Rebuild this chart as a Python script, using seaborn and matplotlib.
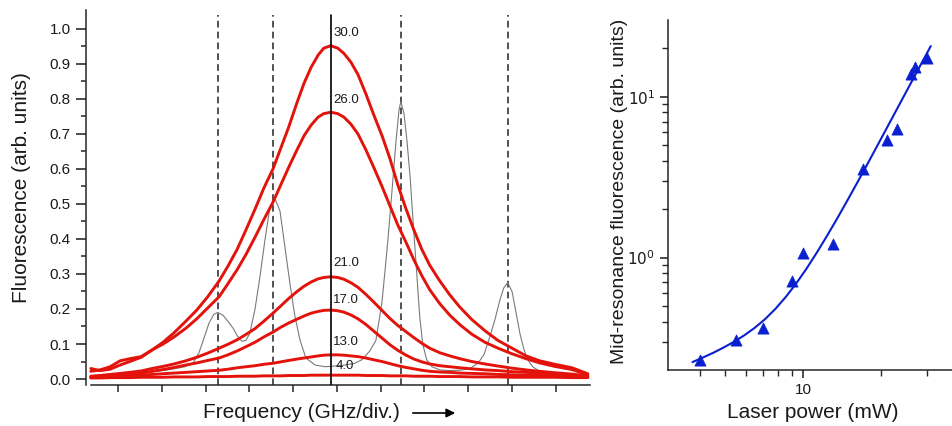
import numpy as np
import pandas as pd
import matplotlib
matplotlib.use("Agg")
import matplotlib.pyplot as plt
from matplotlib.ticker import FixedLocator, NullFormatter, FixedFormatter
import seaborn as sns

# ---------------- data: left panel (frequency in divisions) ----------------
freq = [-0.62, -0.41, -0.18, 0.05, 0.27, 0.53, 0.78, 1.03, 1.28, 1.55, 1.80, 2.05, 2.31,
        2.51, 2.72, 2.92, 3.13, 3.33, 3.54, 3.72, 3.90, 4.09, 4.25, 4.41, 4.57, 4.70,
        4.86, 5.02, 5.16, 5.32, 5.48, 5.66, 5.84, 6.03, 6.21, 6.39, 6.58, 6.76, 6.94,
        7.12, 7.35, 7.58, 7.81, 8.08, 8.38, 8.68, 9.00, 9.32, 9.63, 9.98, 10.37, 10.73]

fl_30 = [0.030, 0.024, 0.028, 0.040, 0.050, 0.062, 0.083, 0.105, 0.132, 0.165, 0.197, 0.235, 0.280,
         0.322, 0.370, 0.425, 0.485, 0.545, 0.600, 0.660, 0.720, 0.790, 0.845, 0.890, 0.925, 0.945,
         0.952, 0.945, 0.930, 0.905, 0.870, 0.815, 0.755, 0.695, 0.630, 0.555, 0.485, 0.425, 0.370,
         0.325, 0.280, 0.240, 0.205, 0.170, 0.138, 0.110, 0.088, 0.066, 0.052, 0.042, 0.032, 0.015]
fl_26 = [0.022, 0.026, 0.035, 0.052, 0.058, 0.064, 0.083, 0.100, 0.120, 0.145, 0.172, 0.203, 0.235,
         0.272, 0.312, 0.355, 0.405, 0.455, 0.505, 0.555, 0.605, 0.655, 0.695, 0.725, 0.748, 0.758,
         0.762, 0.758, 0.748, 0.728, 0.700, 0.655, 0.605, 0.550, 0.495, 0.440, 0.390, 0.340, 0.295,
         0.255, 0.215, 0.182, 0.155, 0.128, 0.105, 0.088, 0.072, 0.058, 0.046, 0.036, 0.027, 0.012]
fl_21 = [0.008, 0.010, 0.013, 0.016, 0.019, 0.023, 0.030, 0.036, 0.043, 0.052, 0.062, 0.074, 0.088,
         0.099, 0.112, 0.127, 0.144, 0.165, 0.188, 0.209, 0.230, 0.250, 0.265, 0.277, 0.286, 0.290,
         0.292, 0.290, 0.285, 0.275, 0.262, 0.242, 0.220, 0.196, 0.173, 0.153, 0.135, 0.118, 0.102,
         0.088, 0.075, 0.066, 0.058, 0.050, 0.043, 0.037, 0.031, 0.026, 0.022, 0.018, 0.014, 0.009]
fl_17 = [0.006, 0.008, 0.010, 0.012, 0.014, 0.017, 0.022, 0.027, 0.033, 0.040, 0.046, 0.053, 0.060,
         0.069, 0.080, 0.092, 0.105, 0.120, 0.134, 0.148, 0.160, 0.171, 0.180, 0.188, 0.193, 0.196,
         0.197, 0.195, 0.191, 0.183, 0.172, 0.156, 0.137, 0.117, 0.098, 0.082, 0.068, 0.057, 0.049,
         0.043, 0.038, 0.035, 0.032, 0.029, 0.026, 0.024, 0.021, 0.019, 0.016, 0.013, 0.011, 0.008]
fl_13 = [0.004, 0.005, 0.006, 0.008, 0.009, 0.011, 0.013, 0.015, 0.017, 0.019, 0.021, 0.023, 0.025,
         0.028, 0.032, 0.035, 0.038, 0.042, 0.045, 0.049, 0.053, 0.057, 0.060, 0.063, 0.066, 0.068,
         0.069, 0.069, 0.068, 0.066, 0.064, 0.060, 0.055, 0.050, 0.044, 0.038, 0.033, 0.029, 0.025,
         0.022, 0.020, 0.019, 0.017, 0.016, 0.015, 0.013, 0.012, 0.011, 0.010, 0.009, 0.008, 0.006]
fl_4 = [0.003, 0.003, 0.004, 0.004, 0.004, 0.005, 0.005, 0.005, 0.006, 0.006, 0.006, 0.007, 0.007,
        0.007, 0.008, 0.008, 0.008, 0.009, 0.009, 0.009, 0.010, 0.010, 0.010, 0.011, 0.011, 0.011,
        0.011, 0.011, 0.011, 0.011, 0.011, 0.010, 0.010, 0.010, 0.009, 0.009, 0.009, 0.008, 0.008,
        0.008, 0.007, 0.007, 0.007, 0.006, 0.006, 0.006, 0.005, 0.005, 0.005, 0.005, 0.004, 0.004]

power_labels = ["30.0", "26.0", "21.0", "17.0", "13.0", "4.0"]
label_y = [0.989, 0.797, 0.331, 0.226, 0.106, 0.037]

ref_freq = [-0.62, -0.18, 0.27, 0.73, 1.19, 1.53, 1.71, 1.85, 1.96, 2.08, 2.19, 2.28,
            2.40, 2.51, 2.63, 2.74, 2.83, 2.92, 3.01, 3.13, 3.24, 3.36, 3.47, 3.58,
            3.70, 3.81, 3.93, 4.04, 4.16, 4.29, 4.50, 4.73, 4.95, 5.18, 5.41, 5.57,
            5.75, 5.89, 6.03, 6.16, 6.26, 6.35, 6.42, 6.46, 6.53, 6.60, 6.67, 6.74,
            6.83, 6.89, 6.96, 7.05, 7.17, 7.35, 7.58, 7.81, 8.04, 8.22, 8.36, 8.49,
            8.61, 8.72, 8.81, 8.90, 9.00, 9.09, 9.18, 9.27, 9.36, 9.47, 9.63, 9.86,
            10.09, 10.43, 10.73]
ref_sig = [0.004, 0.010, 0.015, 0.020, 0.027, 0.035, 0.045, 0.075, 0.115, 0.160, 0.185, 0.190,
           0.182, 0.165, 0.145, 0.120, 0.108, 0.110, 0.130, 0.200, 0.290, 0.400, 0.490, 0.517,
           0.480, 0.380, 0.270, 0.180, 0.110, 0.060, 0.040, 0.035, 0.037, 0.040, 0.045, 0.055,
           0.080, 0.110, 0.220, 0.390, 0.540, 0.680, 0.770, 0.792, 0.760, 0.680, 0.580, 0.450,
           0.290, 0.180, 0.100, 0.055, 0.035, 0.026, 0.024, 0.025, 0.030, 0.045, 0.070, 0.120,
           0.170, 0.225, 0.260, 0.275, 0.250, 0.190, 0.130, 0.085, 0.055, 0.035, 0.022, 0.015,
           0.012, 0.010, 0.010]

center_line = 4.86
dashed_lines = [2.28, 3.54, 6.46, 8.90]

# ---------------- data: right panel ----------------
laser_power = [4.0, 5.5, 7.0, 9.0, 10.0, 13.0, 17.0, 21.0, 23.0, 26.0, 27.0, 30.0]
mid_fluor = [0.232, 0.306, 0.366, 0.713, 1.07, 1.22, 3.56, 5.35, 6.29, 13.9, 15.4, 17.4]
fit_power = [3.73, 4.09, 4.49, 4.92, 5.40, 5.92, 6.49, 7.11, 7.80, 8.55, 9.38, 10.28,
             11.27, 12.36, 13.55, 14.86, 16.29, 17.86, 19.59, 21.48, 23.55, 25.82, 28.31, 31.05]
fit_fluor = [0.224, 0.239, 0.256, 0.276, 0.300, 0.329, 0.366, 0.414, 0.480, 0.569, 0.690, 0.853,
             1.074, 1.371, 1.766, 2.296, 2.999, 3.936, 5.188, 6.839, 9.016, 11.89, 15.67, 20.65]

# ---------------- style ----------------
sns.set_theme(style="ticks")
plt.rcParams["font.family"] = ["Liberation Sans", "DejaVu Sans"]
plt.rcParams["axes.linewidth"] = 1.1
plt.rcParams["text.color"] = "#1a1a1a"

RED = "#e3120b"
BLUE = "#0a1fd0"

W, H = 952, 426
fig = plt.figure(figsize=(W / 100, H / 100), dpi=100)
ax1 = fig.add_axes([86 / W, 1 - 385 / H, (590 - 86) / W, (385 - 10) / H])
ax2 = fig.add_axes([668 / W, 1 - 370 / H, (952 - 668) / W, (370 - 20) / H])

# ---------------- left panel ----------------
curves = [fl_30, fl_26, fl_21, fl_17, fl_13, fl_4]
df_red = pd.concat(
    [pd.DataFrame({"freq": freq, "fluor": c, "power": lab}) for c, lab in zip(curves, power_labels)],
    ignore_index=True)
df_ref = pd.DataFrame({"freq": ref_freq, "fluor": ref_sig})

for xv in dashed_lines:
    ax1.axvline(xv, ymin=0, ymax=0.987, color="#333333", lw=1.2, ls=(0, (4, 2.5)), zorder=1)

sns.lineplot(data=df_ref, x="freq", y="fluor", ax=ax1, color="#7a7a7a", lw=0.8,
             sort=False, estimator=None, zorder=2)
sns.lineplot(data=df_red, x="freq", y="fluor", hue="power", hue_order=power_labels,
             palette={p: RED for p in power_labels}, ax=ax1, lw=2.1, sort=False,
             estimator=None, legend=False, zorder=3)
ax1.axvline(center_line, ymin=0, ymax=0.987, color="black", lw=1.2, zorder=4)

for lab, yv in zip(power_labels, label_y):
    xoff = 0.11 if lab == "4.0" else 0.05
    ax1.text(center_line + xoff, yv, lab, fontsize=9.5, va="center", ha="left", color="#1a1a1a")

ax1.set_xlim(-0.73, 10.78)
ax1.set_ylim(-0.0171, 1.054)
ax1.set_xticks(range(0, 11))
ax1.set_xticklabels([])
yt = [round(0.1 * i, 1) for i in range(11)]
ax1.set_yticks(yt)
ax1.set_yticklabels([f"{v:.1f}" for v in yt])
ax1.yaxis.set_minor_locator(FixedLocator([0.05 + 0.1 * i for i in range(10)]))
ax1.tick_params(axis="y", which="major", direction="out", length=7, width=1.1, pad=4,
                labelsize=11, colors="#1a1a1a")
ax1.tick_params(axis="y", which="minor", direction="out", length=3.5, width=1.1)
ax1.tick_params(axis="x", which="major", direction="out", length=5, width=1.1)
ax1.spines["top"].set_visible(False)
ax1.spines["right"].set_visible(False)
ax1.spines["bottom"].set_bounds(-0.62, 10.78)
ax1.set_xlabel("")
ax1.set_ylabel("")

fig.text(22 / W, 1 - 188 / H, "Fluorescence (arb. units)", rotation=90, ha="center",
         va="center", fontsize=15)
fig.text(301 / W, 1 - 413 / H, "Frequency (GHz/div.)", ha="center", va="center", fontsize=15)
fig.patches.append(matplotlib.patches.FancyArrowPatch(
    (410 / W, 1 - 413 / H), (458 / W, 1 - 413 / H), transform=fig.transFigure,
    arrowstyle="-|>", mutation_scale=13, color="black", lw=1.2))

# ---------------- right panel ----------------
df_fit = pd.DataFrame({"power": fit_power, "fluor": fit_fluor})
df_pts = pd.DataFrame({"power": laser_power, "fluor": mid_fluor})
sns.lineplot(data=df_fit, x="power", y="fluor", ax=ax2, color=BLUE, lw=1.5, sort=False,
             estimator=None)
sns.scatterplot(data=df_pts, x="power", y="fluor", ax=ax2, marker="^", color=BLUE, s=65,
                edgecolor=BLUE, linewidth=0.5, zorder=3)
ax2.set_xscale("log")
ax2.set_yscale("log")
ax2.set_xlim(3.0, 37.5)
ax2.set_ylim(0.2, 30)
ax2.xaxis.set_major_locator(FixedLocator([10]))
ax2.xaxis.set_major_formatter(FixedFormatter(["10"]))
ax2.xaxis.set_minor_locator(FixedLocator([4, 5, 6, 7, 8, 9, 20, 30]))
ax2.xaxis.set_minor_formatter(NullFormatter())
ax2.yaxis.set_major_locator(FixedLocator([1, 10]))
ax2.yaxis.set_major_formatter(FixedFormatter([r"$10^0$", r"$10^1$"]))
ax2.yaxis.set_minor_locator(FixedLocator([0.3, 0.4, 0.5, 0.6, 0.7, 0.8, 0.9,
                                          2, 3, 4, 5, 6, 7, 8, 9, 20]))
ax2.yaxis.set_minor_formatter(NullFormatter())
ax2.tick_params(axis="both", which="major", direction="out", length=6, width=1.1,
                labelsize=11, colors="#1a1a1a")
ax2.tick_params(axis="both", which="minor", direction="out", length=4, width=1.0)
ax2.spines["top"].set_visible(False)
ax2.spines["right"].set_visible(False)
ax2.set_xlabel("")
ax2.set_ylabel("")
fig.text(620 / W, 1 - 191 / H, "Mid-resonance fluorescence (arb. units)", rotation=90,
         ha="center", va="center", fontsize=14)
fig.text(813 / W, 1 - 413 / H, "Laser power (mW)", ha="center", va="center", fontsize=15)

fig.savefig("out.png", dpi=100)
